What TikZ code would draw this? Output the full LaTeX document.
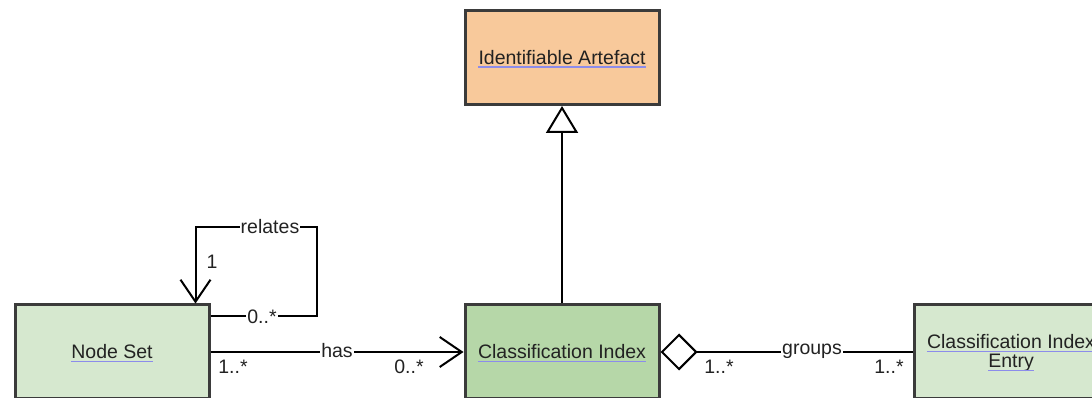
\documentclass[tikz,border=0pt]{standalone}
\usepackage{fontspec}
\setmainfont{Liberation Sans}
\usetikzlibrary{arrows.meta,calc}
\definecolor{orangefill}{HTML}{F8C99B}
\definecolor{lightgreen}{HTML}{D6E8CF}
\definecolor{midgreen}{HTML}{B6D7A8}
\definecolor{bordergray}{HTML}{3B3B3B}
\definecolor{ulcolor}{HTML}{8C8CEB}
\definecolor{txt}{HTML}{222222}
\begin{document}
\begin{tikzpicture}[x=1pt,y=1pt,
  cls/.style={draw=bordergray,line width=3pt,minimum width=194pt,minimum height=94pt,inner sep=0pt},
  ctext/.style={anchor=base,inner sep=0pt,font=\fontsize{19.5}{20}\selectfont,text=txt},
  uline/.style={draw=ulcolor,line width=1.3pt},
  conn/.style={line width=2pt,black},
  lbl/.style={fill=white,inner sep=1pt,font=\fontsize{19.5}{21}\selectfont,text=txt},
  mult/.style={inner sep=1pt,font=\fontsize{19.5}{21}\selectfont,text=txt}]
\useasboundingbox (0,0) rectangle (1092,398);
\node[cls,fill=orangefill] (ia) at (562,340.5) {};
\node[cls,fill=midgreen] (ci) at (562,46) {};
\node[cls,fill=lightgreen] (ns) at (112,46) {};
\node[cls,fill=lightgreen] (cie) at (1011,46) {};
\node[ctext] (iat) at ([yshift=-7pt]ia.center) {Identifiable Artefact};
\node[ctext] (cit) at ([yshift=-7pt]ci.center) {Classification Index};
\node[ctext] (nst) at ([yshift=-7pt]ns.center) {Node Set};
\node[ctext] (ciet) at ([yshift=3pt]cie.center) {Classification Index};
\node[ctext] (ciet2) at ([yshift=-16pt]cie.center) {Entry};
\foreach \t in {iat,cit,nst,ciet,ciet2}
  \draw[uline] ([yshift=-2.5pt]\t.base west) -- ([yshift=-2.5pt]\t.base east);
% generalisation
\draw[conn,-{Triangle[open,length=27pt,width=32pt,line width=2pt]}] (ci.north) -- (ia.south);
% relates
\coordinate (rs) at ([yshift=-13pt]ns.north east);
\coordinate (rt) at ([xshift=-15pt]ns.north east);
\coordinate (rc) at (317,171);
\draw[conn,-{Straight Barb[length=22pt,width=30pt,line width=2pt]}] (rs) -| (rc) -| (rt);
\node[lbl] (relates) at (270,171) {relates};
\node[lbl] (m0) at (262,81) {0..*};
\node[mult] (m1) at (212,136) {1};
% has
\draw[conn,-{Straight Barb[length=22pt,width=30pt,line width=2pt]}] (ns.east) -- (ci.west);
\node[lbl] (has) at (337,47) {has};
\node[mult] (h1) at (233,31) {1..*};
\node[mult] (h2) at (409,31) {0..*};
% groups
\draw[conn,{Diamond[open,length=37pt,width=37pt,line width=2pt,fill=white]}-] (ci.east) -- (cie.west);
\node[lbl] (groups) at (812,47) {groups};
\node[mult] (g1) at (719,31) {1..*};
\node[mult] (g2) at (889,31) {1..*};
\end{tikzpicture}
\end{document}
